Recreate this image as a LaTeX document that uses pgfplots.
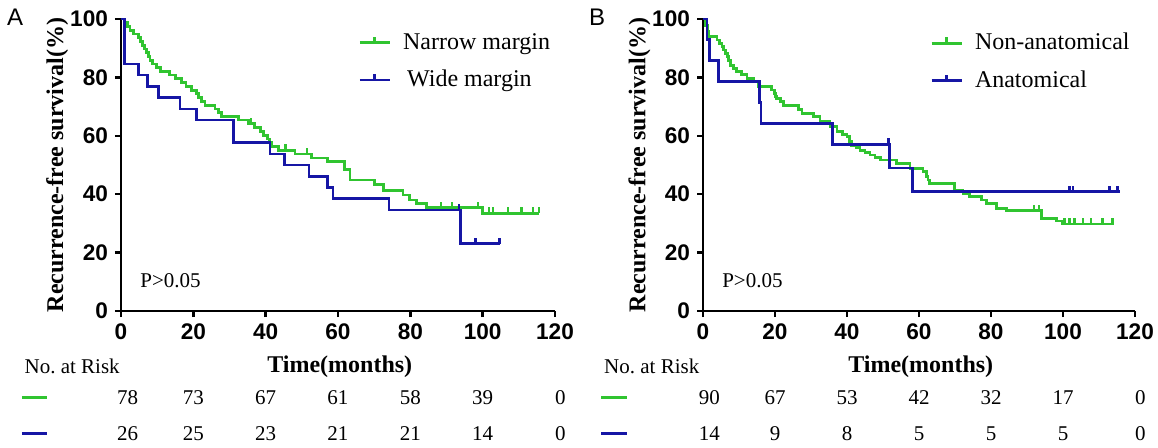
\documentclass[border=0pt]{standalone}
\usepackage{fontspec}
\setmainfont{Liberation Serif}
\setsansfont{Liberation Sans}
\usepackage{pgfplots}
\pgfplotsset{compat=1.18}

\definecolor{kmgreen}{RGB}{48,196,48}
\definecolor{kmblue}{RGB}{22,22,165}

% censoring tick: short stroke upwards from the curve
\pgfdeclareplotmark{cens}{\pgfpathmoveto{\pgfpointorigin}\pgfpathlineto{\pgfpoint{0pt}{3pt}}\pgfusepathqstroke}

\pgfplotsset{kmaxis/.style={
  scale only axis, height=146pt,
  xmin=0, xmax=120, ymin=0, ymax=100,
  axis x line=bottom, axis y line=left,
  axis line style={line width=1.4pt,-},
  xtick={0,20,...,120}, ytick={0,20,...,100},
  tick align=outside, major tick length=3pt,
  tick style={line width=1.2pt,black},
  tick label style={font=\sffamily\bfseries\fontsize{11.3}{13}\selectfont},
  /pgf/number format/assume math mode=true,
  xlabel={Time(months)}, ylabel={Recurrence-free survival(\%)},
  label style={font=\bfseries\fontsize{12}{14}\selectfont},
  xlabel style={at={(axis description cs:0.504,-0.192)},anchor=center},
  ylabel style={at={(axis description cs:-0.147,0.5)},anchor=center},
  clip=false,
  legend style={draw=none, fill=none, font=\fontsize{12}{14}\selectfont,
    anchor=north west, row sep=5pt, inner sep=0pt},
  legend cell align=left,
  legend image code/.code={\draw[#1] (0pt,0pt) -- (15pt,0pt); \draw[#1] (7.5pt,0pt) -- (7.5pt,3pt); \path (19pt,0pt);},
  every axis plot/.append style={line width=1.4pt},
}}
\tikzset{risk/.style={font=\fontsize{10.5}{12}\selectfont}}

\begin{document}
\begin{tikzpicture}
\useasboundingbox (0,0) rectangle (579pt,-223.5pt);

% ---------------- panel A ----------------
\begin{axis}[kmaxis, width=217pt, at={(60.5pt,-155.5pt)}, anchor=south west,
  legend style={at={(0.546,0.966)}}]
\addplot[kmgreen, const plot] coordinates {
 (0,100) (1.0,98.7) (1.8,97.4) (2.5,96.2) (3.5,94.9) (4.8,93.6) (5.5,92.3) (6.0,91.0)
 (6.4,89.7) (7.0,88.5) (7.5,87.2) (8.0,85.9) (8.8,84.6) (9.9,83.3) (11.0,82.1) (13.5,80.8)
 (15.0,79.5) (16.8,78.2) (18.0,76.9) (19.5,75.6) (20.9,74.4) (21.5,73.1) (22.3,71.8) (23.2,70.5)
 (26.0,69.2) (27.0,67.9) (27.8,66.7) (32.4,65.4) (35.2,64.1) (37.0,62.8) (38.5,61.5) (39.3,60.2)
 (40.5,58.9) (41.0,57.6) (41.6,56.3) (43.5,55.1) (48.1,53.8) (52.7,52.4) (57.0,51.1) (61.9,48.4)
 (63.3,44.9) (70.0,43.2) (72.5,41.4) (78.0,39.7) (79.8,38.0) (81.7,36.9) (84.5,35.4) (100.0,33.4)
 (115.7,33.4)};
\addlegendentry{Narrow margin}
\addplot[kmblue, const plot] coordinates {
 (0,100) (0.9,84.6) (4.8,80.8) (7.3,76.9) (10.3,73.1) (16.3,69.2) (20.9,65.4) (31.2,57.7)
 (41.2,53.8) (45.3,50.0) (52.0,46.2) (57.0,42.3) (58.6,38.5) (74.1,34.6) (93.9,23.1) (104.7,23.1)};
\addlegendentry{\,Wide margin}
\addplot[kmgreen, only marks, mark=cens, forget plot, mark options={line width=1.2pt}] coordinates {
 (36.0,64.1) (45.5,55.1) (51.5,53.8) (88.4,35.4) (91.6,35.4) (98.7,35.4)
 (101.7,33.4) (102.9,33.4) (107.0,33.4) (110.7,33.4) (113.9,33.4) (115.5,33.4)};
\addplot[kmblue, only marks, mark=cens, forget plot, mark options={line width=1.2pt}] coordinates {
 (93.4,34.6) (98.0,23.1) (104.7,23.1)};

\node[font=\sffamily\fontsize{12}{14}\selectfont] at (axis cs:-29.3,100.7) {A};
\node[anchor=west, risk] at (axis cs:3.4,10.3) {P>0.05};
\node[anchor=west, risk] at (axis cs:-28.6,-19.1) {No.\ at Risk};
\draw[kmgreen, line width=1.4pt] (axis cs:-27.4,-29.6) -- (axis cs:-20.4,-29.6);
\draw[kmblue, line width=1.4pt] (axis cs:-27.4,-41.9) -- (axis cs:-20.4,-41.9);
\node[risk] at (axis cs:1.8,-29.6) {78};
\node[risk] at (axis cs:20,-29.6) {73};
\node[risk] at (axis cs:40,-29.6) {67};
\node[risk] at (axis cs:60,-29.6) {61};
\node[risk] at (axis cs:80,-29.6) {58};
\node[risk] at (axis cs:100,-29.6) {39};
\node[risk] at (axis cs:121.5,-29.6) {0};
\node[risk] at (axis cs:1.8,-41.9) {26};
\node[risk] at (axis cs:20,-41.9) {25};
\node[risk] at (axis cs:40,-41.9) {23};
\node[risk] at (axis cs:60,-41.9) {21};
\node[risk] at (axis cs:80,-41.9) {21};
\node[risk] at (axis cs:100,-41.9) {14};
\node[risk] at (axis cs:121.5,-41.9) {0};
\end{axis}

% ---------------- panel B ----------------
\begin{axis}[kmaxis, width=216pt, at={(351.5pt,-155.5pt)}, anchor=south west,
  legend style={at={(0.525,0.966)}}]
\addplot[kmgreen, const plot] coordinates {
 (0,100) (0.6,97.8) (1.3,95.6) (1.6,93.9) (3.9,92.8) (4.6,91.6) (5.3,90.5) (5.8,89.4)
 (6.2,88.2) (6.7,87.1) (7.0,85.9) (7.6,84.2) (8.5,83.1) (9.4,82.0) (10.8,80.9) (12.2,79.7)
 (14.1,78.5) (15.4,76.8) (19.1,75.7) (19.8,74.4) (20.2,73.4) (20.5,72.8) (21.5,71.7) (22.4,70.5)
 (26.5,68.9) (27.5,67.7) (30.7,66.5) (32.5,64.8) (35.3,63.1) (37.2,61.4) (38.8,60.5) (40.0,59.7)
 (40.7,58.0) (41.3,56.8) (42.5,55.9) (43.6,55.1) (45.0,54.2) (46.4,53.4) (47.8,52.5) (49.2,51.7)
 (53.8,50.6) (57.5,48.9) (61.1,47.7) (62.0,46.0) (62.5,44.9) (63.0,43.7) (69.9,41.4) (72.2,40.3)
 (74.0,39.1) (77.3,38.0) (78.7,36.9) (81.5,35.2) (84.2,34.4) (94.0,31.7) (98.1,30.8) (99.9,29.8)
 (114.3,29.8)};
\addlegendentry{Non-anatomical}
\addplot[kmblue, const plot] coordinates {
 (0,100) (1.1,92.9) (1.9,85.7) (4.3,78.6) (15.7,71.4) (16.1,64.3) (36.0,57.1) (51.8,49.0)
 (58.3,40.8) (115.7,40.8)};
\addlegendentry{Anatomical}
\addplot[kmgreen, only marks, mark=cens, forget plot, mark options={line width=1.2pt}] coordinates {
 (92.0,34.4) (93.3,34.4) (100.4,29.8) (101.8,29.8) (103.2,29.8) (105.5,29.8) (107.8,29.8)
 (111.0,29.8) (113.8,29.8)};
\addplot[kmblue, only marks, mark=cens, forget plot, mark options={line width=1.2pt}] coordinates {
 (51.5,57.1) (101.8,40.8) (102.7,40.8) (112.9,40.8) (115.1,40.8)};

\node[font=\sffamily\fontsize{12}{14}\selectfont] at (axis cs:-29.4,100.7) {B};
\node[anchor=west, risk] at (axis cs:3.4,10.3) {P>0.05};
\node[anchor=west, risk] at (axis cs:-29.4,-19.1) {No.\ at Risk};
\draw[kmgreen, line width=1.4pt] (axis cs:-28.2,-29.6) -- (axis cs:-21.0,-29.6);
\draw[kmblue, line width=1.4pt] (axis cs:-28.2,-41.9) -- (axis cs:-21.0,-41.9);
\node[risk] at (axis cs:1.8,-29.6) {90};
\node[risk] at (axis cs:20,-29.6) {67};
\node[risk] at (axis cs:40,-29.6) {53};
\node[risk] at (axis cs:60,-29.6) {42};
\node[risk] at (axis cs:80,-29.6) {32};
\node[risk] at (axis cs:100,-29.6) {17};
\node[risk] at (axis cs:121.5,-29.6) {0};
\node[risk] at (axis cs:1.8,-41.9) {14};
\node[risk] at (axis cs:20,-41.9) {9};
\node[risk] at (axis cs:40,-41.9) {8};
\node[risk] at (axis cs:60,-41.9) {5};
\node[risk] at (axis cs:80,-41.9) {5};
\node[risk] at (axis cs:100,-41.9) {5};
\node[risk] at (axis cs:121.5,-41.9) {0};
\end{axis}
\end{tikzpicture}
\end{document}
